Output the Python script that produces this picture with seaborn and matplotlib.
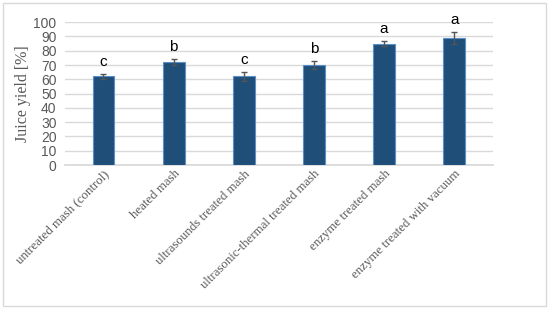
import matplotlib
matplotlib.use("Agg")
import matplotlib.pyplot as plt
import seaborn as sns
import pandas as pd
from matplotlib.patches import Rectangle

categories = ["untreated mash (control)", "heated mash", "ultrasounds treated mash",
              "ultrasonic-thermal treated mash", "enzyme treated mash", "enzyme treated with vacuum"]
values = [62, 72, 62, 70, 85, 89]
errors = [2, 2, 3, 3, 1.5, 4]
letters = ["c", "b", "c", "b", "a", "a"]
yticks = list(range(0, 101, 10))

df = pd.DataFrame({"cat": categories, "val": values})

sns.set_theme(style="white")
fig = plt.figure(figsize=(5.5, 3.12), dpi=100)
ax = fig.add_axes([0.118, 0.471, 0.778, 0.458])

sns.barplot(data=df, x="cat", y="val", color="#1F4E79", width=0.31, ax=ax, saturation=1,
            edgecolor="#5B8FC7", linewidth=0.8, zorder=3)
ax.errorbar(range(len(values)), values, yerr=errors, fmt="none", ecolor="#555555",
            elinewidth=1, capsize=2.5, capthick=1, zorder=4)
for i, (v, e, l) in enumerate(zip(values, errors, letters)):
    ax.text(i, v + e + 3.5, l, ha="center", va="bottom", fontsize=11, color="black",
            family="Liberation Sans")

ax.set_ylim(0, 100)
ax.set_yticks(yticks)
ax.set_yticklabels([str(t) for t in yticks], color="#595959", fontsize=10, family="Liberation Sans")
ax.yaxis.grid(True, color="#D9D9D9", linewidth=1, zorder=0)
ax.set_axisbelow(True)
for s in ["top", "right", "left"]:
    ax.spines[s].set_visible(False)
ax.spines["bottom"].set_color("#D9D9D9")
ax.tick_params(axis="y", length=0, pad=6)
ax.tick_params(axis="x", length=0, pad=2)
ax.set_xlim(-0.55, 5.55)
ax.set_xlabel("")
ax.set_ylabel("Juice yield [%]", color="#595959", fontsize=11.5, family="Liberation Serif", labelpad=2)
ax.set_xticks(range(len(categories)))
ax.set_xticklabels(categories, rotation=45, ha="right", rotation_mode="anchor",
                   color="#595959", fontsize=9.3, family="Liberation Serif")

fig.patches.append(Rectangle((0.005, 0.02), 0.987, 0.97, transform=fig.transFigure,
                             fill=False, edgecolor="#D9D9D9", linewidth=1))
fig.savefig("out.png", dpi=100)
